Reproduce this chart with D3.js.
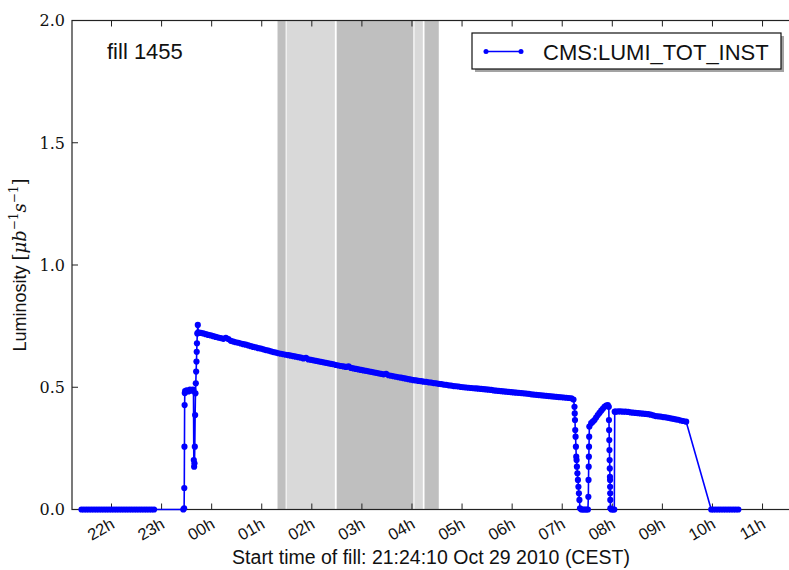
<!DOCTYPE html>
<html><head><meta charset="utf-8">
<script src="https://cdn.jsdelivr.net/npm/d3@7"></script>
<style>
body{margin:0;background:#fff;}
svg{display:block;}
</style></head>
<body>
<svg id="chart" width="789" height="570"></svg>
<script>
// ---- data (time in minutes after 21:00, Oct 29 2010, CEST) ----
const timeMin = [
 24,27,30,33,36,39,42,45,48,51,54,57,60,63,66,69,72,75,78,81,84,87,90,93,96,99,102,105,108,111,
 146,147.0,147.2,147.4,147.6,147.8,148.2,150,152,154,156,157.5,
 158.2,158.6,159.0,159.4,159.8,160.2,160.6,161.0,161.4,161.8,162.1,162.4,162.8,163.4,
 164,167,170,173,176,179,182,185,188,191,194,197,200,203,206,209,212,215,218,221,224,227,230,233,236,
 239,242,245,248,251,254,257,
 260,263,266,269,272,275,278,281,284,287,290,293,296,299,302,305,308,311,314,317,320,323,326,329,
 332,335,338,341,344,347,350,353,356,359,362,365,368,371,374,377,380,383,386,389,392,395,398,401,404,407,410,413,416,419,
 422,425,428,431,434,437,440,443,446,449,452,455,458,461,464,467,470,473,476,
 479,482,485,488,491,494,497,500,503,506,509,512,515,518,521,524,527,530,533,536,539,542,545,548,551,554,557,560,563,566,569,572,
 575,578,581,584,587,590,593,596,599,602,605,608,611,
 613.5,614.7,615.0,615.3,615.6,616.0,616.4,616.8,617.2,617.6,618.2,618.8,619.4,620.0,620.6,621.3,
 623,625,627,629,630.8,
 631.3,631.5,631.7,631.9,632.1,632.3,632.5,634.7,636.6,638.6,640.6,642.6,644.6,646.7,648.6,650.6,652.6,654.6,
 655.8,656.0,656.2,656.4,656.6,656.8,657.0,657.2,657.3,657.4,657.5,657.6,657.7,
 659,661,662.4,
 662.9,664,667,670,673,676,679,682,685,688,691,694,697,700,703,706,709,712,715,718,721,724,727,730,733,736,739,742,745,748.5,
 778.5,781,784,787,790,793,796,799,802,805,808,811
];
const lumi = [
 0,0,0,0,0,0,0,0,0,0,0,0,0,0,0,0,0,0,0,0,0,0,0,0,0,0,0,0,0,0,
 0,0.005,0.088,0.257,0.427,0.476,0.484,0.487,0.483,0.490,0.486,0.490,
 0.488,0.202,0.175,0.189,0.257,0.386,0.475,0.516,0.564,0.605,0.645,0.680,0.720,0.755,
 0.725,0.722,0.720,0.717,0.714,0.712,0.709,0.706,0.703,0.701,0.698,0.702,0.697,0.690,0.687,0.684,0.682,0.679,0.676,0.674,0.671,0.668,0.665,0.663,0.660,
 0.658,0.655,0.652,0.650,0.647,0.644,0.642,
 0.639,0.637,0.635,0.633,0.631,0.629,0.627,0.625,0.623,0.621,0.618,0.620,0.614,0.612,0.610,0.608,0.606,0.604,0.602,0.600,0.598,0.596,0.594,0.591,
 0.589,0.587,0.585,0.583,0.585,0.579,0.577,0.575,0.573,0.571,0.569,0.567,0.565,0.563,0.561,0.559,0.557,0.555,0.553,0.555,0.549,0.547,0.545,0.543,0.541,0.539,0.537,0.535,0.533,0.531,
 0.529,0.528,0.526,0.525,0.523,0.522,0.520,0.519,0.517,0.516,0.514,0.513,0.511,0.510,0.508,0.507,0.505,0.504,0.503,
 0.501,0.500,0.499,0.498,0.497,0.496,0.495,0.494,0.493,0.492,0.491,0.490,0.489,0.487,0.486,0.485,0.484,0.483,0.482,0.481,0.480,0.479,0.478,0.477,0.476,0.475,0.474,0.473,0.471,0.470,0.469,0.468,
 0.467,0.466,0.465,0.464,0.463,0.462,0.461,0.460,0.459,0.458,0.457,0.456,0.455,
 0.450,0.420,0.393,0.366,0.325,0.298,0.257,0.216,0.202,0.175,0.148,0.121,0.093,0.066,0.039,0.005,
 0,0,0,0,0,
 0.052,0.121,0.175,0.216,0.257,0.298,0.339,0.353,0.359,0.366,0.376,0.386,0.395,0.404,0.412,0.420,0.425,0.427,
 0.420,0.366,0.325,0.284,0.243,0.202,0.168,0.134,0.121,0.093,0.066,0.039,0.005,
 0,0,0,
 0.400,0.400,0.401,0.401,0.400,0.400,0.399,0.397,0.396,0.395,0.394,0.393,0.392,0.391,0.390,0.388,0.385,0.382,0.381,0.380,0.378,0.377,0.375,0.373,0.371,0.369,0.367,0.364,0.362,0.359,
 0,0,0,0,0,0,0,0,0,0,0,0
];
// shaded periods (minutes after 21:00)
const spanStart = [258.9, 269.8, 329.8, 423.0, 435.0];
const spanEnd   = [268.6, 327.6, 421.6, 433.0, 452.1];
const spanKind  = ["A", "B", "A", "B", "A"];
const yTicks = [0, 0.5, 1.0, 1.5, 2.0];
const seriesName = "CMS:LUMI_TOT_INST";
const fillLabel = "fill 1455";
const xTitle = "Start time of fill: 21:24:10 Oct 29 2010 (CEST)";
const xDomainMin = [12.67, 872.9];
const yDomain = [0, 2];

// ---- layout ----
const W = 789, H = 570;
const L = 72, R = 790, T = 20.5, B = 509.5;
const base = Date.UTC(2010, 9, 29, 21, 0, 0);
const toDate = m => new Date(base + m * 60000);

const svg = d3.select("#chart");
const x = d3.scaleUtc().domain(xDomainMin.map(toDate)).range([L, R]);
const y = d3.scaleLinear().domain(yDomain).range([B, T]);

const kindColor = {A: "#bfbfbf", B: "#d9d9d9"};
svg.append("g").selectAll("rect").data(spanStart).join("rect")
  .attr("x", (d, i) => x(toDate(d)))
  .attr("width", (d, i) => x(toDate(spanEnd[i])) - x(toDate(d)))
  .attr("y", T).attr("height", B - T)
  .attr("fill", (d, i) => kindColor[spanKind[i]]);

// frame
svg.append("rect").attr("x", L).attr("y", T).attr("width", R - L).attr("height", B - T)
  .attr("fill", "none").attr("stroke", "#222").attr("stroke-width", 1.2);

// x ticks
const hourTicks = x.ticks(d3.utcHour.every(1));
const fmt = d3.utcFormat("%Hh");
const tk = 6;
const gx = svg.append("g");
gx.selectAll("line.b").data(hourTicks).join("line").attr("class","b")
  .attr("x1", d => x(d)).attr("x2", d => x(d)).attr("y1", B).attr("y2", B - tk)
  .attr("stroke", "#222").attr("stroke-width", 1);
gx.selectAll("line.t").data(hourTicks).join("line").attr("class","t")
  .attr("x1", d => x(d)).attr("x2", d => x(d)).attr("y1", T).attr("y2", T + tk)
  .attr("stroke", "#222").attr("stroke-width", 1);
gx.selectAll("text").data(hourTicks).join("text")
  .attr("transform", d => `translate(${x(d) - 2},${B + 7}) rotate(-30)`)
  .attr("text-anchor", "end").attr("dy", "0.75em")
  .attr("font-family", "Liberation Sans, Arial, sans-serif").attr("font-size", 16.5)
  .attr("fill", "#111").text(d => fmt(d));

// y ticks
const gy = svg.append("g");
gy.selectAll("line").data(yTicks).join("line")
  .attr("x1", L).attr("x2", L + tk).attr("y1", d => y(d)).attr("y2", d => y(d))
  .attr("stroke", "#222");
gy.selectAll("text").data(yTicks).join("text")
  .attr("x", L - 7).attr("y", d => y(d)).attr("dy", "0.36em")
  .attr("text-anchor", "end")
  .attr("font-family", "DejaVu Serif, serif").attr("font-size", 16)
  .attr("fill", "#111").text(d => d3.format(".1f")(d));

// series
const pts = timeMin.map((t, i) => [x(toDate(t)), y(lumi[i])]);
svg.append("path").attr("d", d3.line()(pts))
  .attr("fill", "none").attr("stroke", "#0000ff").attr("stroke-width", 1.6)
  .attr("stroke-linejoin", "round");
svg.append("g").selectAll("circle").data(pts).join("circle")
  .attr("cx", d => d[0]).attr("cy", d => d[1]).attr("r", 3.1).attr("fill", "#0000ff");

// texts
svg.append("text").attr("x", 107).attr("y", 59)
  .attr("font-family", "Liberation Sans, Arial, sans-serif").attr("font-size", 22)
  .attr("fill", "#111").text(fillLabel);

svg.append("text").attr("x", 431).attr("y", 564).attr("text-anchor", "middle")
  .attr("font-family", "Liberation Sans, Arial, sans-serif").attr("font-size", 19.5)
  .attr("fill", "#111").text(xTitle);

// y label
const yl = svg.append("text").attr("transform", "translate(26,265) rotate(-90)")
  .attr("text-anchor", "middle").attr("fill", "#111").attr("font-size", 18);
yl.append("tspan").attr("font-family", "Liberation Sans, Arial, sans-serif").text("Luminosity ");
const ms = yl.append("tspan").attr("font-family", "DejaVu Serif, serif");
ms.append("tspan").text("[");
ms.append("tspan").attr("font-style", "italic").text("μb");
ms.append("tspan").attr("font-size", 12).attr("dy", -8).text("−1");
ms.append("tspan").attr("font-style", "italic").attr("dy", 8).text("s");
ms.append("tspan").attr("font-size", 12).attr("dy", -8).text("−1");
ms.append("tspan").attr("dy", 8).text("]");

// legend
const lg = svg.append("g");
lg.append("rect").attr("x", 475).attr("y", 36).attr("width", 309).attr("height", 36)
  .attr("fill", "#666").attr("opacity", 0.6);
lg.append("rect").attr("x", 472).attr("y", 33).attr("width", 309).attr("height", 36)
  .attr("fill", "#fff").attr("stroke", "#111").attr("stroke-width", 1.2);
lg.append("line").attr("x1", 486).attr("x2", 521).attr("y1", 51.5).attr("y2", 51.5)
  .attr("stroke", "#0000ff").attr("stroke-width", 1.6);
lg.selectAll("circle").data([486, 521]).join("circle")
  .attr("cx", d => d).attr("cy", 51.5).attr("r", 2.5).attr("fill", "#0000ff");
lg.append("text").attr("x", 543).attr("y", 59.5)
  .attr("font-family", "Liberation Sans, Arial, sans-serif").attr("font-size", 22)
  .attr("fill", "#111").text(seriesName);
</script>
</body></html>
